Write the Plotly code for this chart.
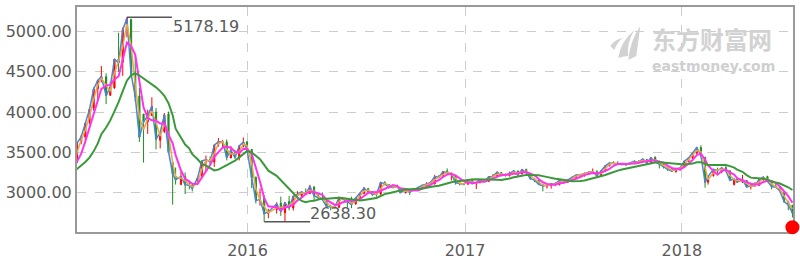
import pandas as pd
import plotly.graph_objects as go

# Weekly OHLC of the index (week-ending dates); first 15 weeks are warm-up for moving averages
dates = [
    "2014-12-05", "2014-12-12", "2014-12-19", "2014-12-26", "2014-12-31",
    "2015-01-09", "2015-01-16", "2015-01-23", "2015-01-30", "2015-02-06",
    "2015-02-13", "2015-02-17", "2015-02-27", "2015-03-06", "2015-03-13",
    "2015-03-20", "2015-03-27", "2015-04-03", "2015-04-10", "2015-04-17", "2015-04-24", "2015-04-30",
    "2015-05-08", "2015-05-15", "2015-05-22", "2015-05-29", "2015-06-05", "2015-06-12", "2015-06-19",
    "2015-06-26", "2015-07-03", "2015-07-10", "2015-07-17", "2015-07-24", "2015-07-31", "2015-08-07",
    "2015-08-14", "2015-08-21", "2015-08-28", "2015-09-02", "2015-09-11", "2015-09-18", "2015-09-25",
    "2015-09-30", "2015-10-09", "2015-10-16", "2015-10-23", "2015-10-30", "2015-11-06", "2015-11-13",
    "2015-11-20", "2015-11-27", "2015-12-04", "2015-12-11", "2015-12-18", "2015-12-25", "2015-12-31",
    "2016-01-08", "2016-01-15", "2016-01-22", "2016-01-29", "2016-02-05", "2016-02-19", "2016-02-26",
    "2016-03-04", "2016-03-11", "2016-03-18", "2016-03-25", "2016-04-01", "2016-04-08", "2016-04-15",
    "2016-04-22", "2016-04-29", "2016-05-06", "2016-05-13", "2016-05-20", "2016-05-27", "2016-06-03",
    "2016-06-08", "2016-06-17", "2016-06-24", "2016-07-01", "2016-07-08", "2016-07-15", "2016-07-22",
    "2016-07-29", "2016-08-05", "2016-08-12", "2016-08-19", "2016-08-26", "2016-09-02", "2016-09-09",
    "2016-09-14", "2016-09-23", "2016-09-30", "2016-10-14", "2016-10-21", "2016-10-28", "2016-11-04",
    "2016-11-11", "2016-11-18", "2016-11-25", "2016-12-02", "2016-12-09", "2016-12-16", "2016-12-23",
    "2016-12-30",
    "2017-01-06", "2017-01-13", "2017-01-20", "2017-01-26", "2017-02-03", "2017-02-10", "2017-02-17",
    "2017-02-24", "2017-03-03", "2017-03-10", "2017-03-17", "2017-03-24", "2017-03-31", "2017-04-07",
    "2017-04-14", "2017-04-21", "2017-04-28", "2017-05-05", "2017-05-12", "2017-05-19", "2017-05-26",
    "2017-06-02", "2017-06-09", "2017-06-16", "2017-06-23", "2017-06-30", "2017-07-07", "2017-07-14",
    "2017-07-21", "2017-07-28", "2017-08-04", "2017-08-11", "2017-08-18", "2017-08-25", "2017-09-01",
    "2017-09-08", "2017-09-15", "2017-09-22", "2017-09-29", "2017-10-13", "2017-10-20", "2017-10-27",
    "2017-11-03", "2017-11-10", "2017-11-17", "2017-11-24", "2017-12-01", "2017-12-08", "2017-12-15",
    "2017-12-22", "2017-12-29",
    "2018-01-05", "2018-01-12", "2018-01-19", "2018-01-26", "2018-02-02", "2018-02-09", "2018-02-14",
    "2018-02-23", "2018-03-02", "2018-03-09", "2018-03-16", "2018-03-23", "2018-03-30", "2018-04-04",
    "2018-04-13", "2018-04-20", "2018-04-27", "2018-05-04", "2018-05-11", "2018-05-18", "2018-05-25",
    "2018-06-01", "2018-06-08", "2018-06-15", "2018-06-22", "2018-06-29", "2018-07-06",
]

opens = [
    2680, 2950, 2930, 3110, 3160, 3258, 3260, 3200, 3360, 3130, 3080, 3210, 3250, 3330, 3250,
    3378, 3630, 3690, 3880, 4050, 4290, 4400, 4440, 4210, 4300, 4660, 4620, 5030, 5150,
    4480, 4200, 3975, 3880, 3960, 4000, 3650, 3760, 3980, 3373, 3200, 3100, 3200, 3100,
    3090, 3140, 3200, 3390, 3410, 3380, 3600, 3610, 3630, 3430, 3510, 3430, 3580, 3630,
    3536, 3190, 2900, 2930, 2740, 2790, 2870, 2750, 2890, 2810, 2960, 2960, 3010, 2990,
    3070, 2960, 2930, 2900, 2830, 2830, 2820, 2930, 2920, 2890, 2860, 2930, 2990, 3050,
    3010, 2980, 2980, 3130, 3100, 3070, 3070, 3050, 3000, 3030, 3030, 3060, 3090, 3100,
    3110, 3200, 3200, 3270, 3230, 3200, 3120, 3110,
    3105, 3155, 3110, 3125, 3160, 3140, 3200, 3200, 3250, 3220, 3210, 3240, 3270, 3230,
    3290, 3240, 3170, 3150, 3100, 3080, 3090, 3110, 3100, 3150, 3130, 3160, 3190, 3210,
    3210, 3240, 3250, 3260, 3210, 3270, 3330, 3370, 3365, 3355, 3350, 3360, 3390, 3380,
    3410, 3370, 3440, 3380, 3350, 3310, 3290, 3260, 3290,
    3315, 3390, 3430, 3490, 3560, 3440, 3130, 3210, 3290, 3260, 3310, 3270, 3100, 3170,
    3130, 3150, 3070, 3090, 3090, 3160, 3200, 3140, 3080, 3060, 3000, 2880, 2840,
]

highs = [
    2938, 3091, 3117, 3185, 3240, 3405, 3400, 3406, 3390, 3190, 3205, 3250, 3320, 3340, 3380,
    3632, 3715, 3866, 4040, 4306, 4400, 4572, 4480, 4380, 4658, 4986, 5051, 5178.19, 5160,
    4720, 4300, 3975, 4030, 4184, 4050, 3750, 3988, 4006, 3373, 3312, 3256, 3250, 3150,
    3110, 3200, 3398, 3460, 3450, 3596, 3678, 3655, 3660, 3580, 3530, 3590, 3684, 3640,
    3539, 3200, 3051, 2965, 2800, 2880, 2950, 2880, 2960, 2960, 3019, 3010, 3052, 3097,
    3080, 2980, 3003, 2900, 2850, 2850, 2950, 2940, 2920, 2950, 2940, 3000, 3070, 3060,
    3020, 2990, 3130, 3140, 3100, 3100, 3100, 3050, 3050, 3040, 3070, 3090, 3130, 3140,
    3220, 3220, 3270, 3301, 3250, 3220, 3150, 3120,
    3170, 3175, 3130, 3160, 3170, 3200, 3230, 3260, 3250, 3240, 3260, 3275, 3270, 3290,
    3295, 3240, 3180, 3150, 3110, 3100, 3120, 3130, 3160, 3160, 3170, 3195, 3220, 3225,
    3250, 3260, 3300, 3280, 3270, 3340, 3370, 3390, 3390, 3370, 3360, 3395, 3400, 3420,
    3420, 3440, 3450, 3400, 3350, 3320, 3310, 3310, 3310,
    3395, 3430, 3490, 3560, 3587, 3440, 3200, 3290, 3310, 3310, 3330, 3280, 3170, 3170,
    3220, 3150, 3110, 3130, 3170, 3200, 3210, 3140, 3120, 3080, 3000, 2900, 2850,
]

lows = [
    2650, 2834, 2900, 2939, 3150, 3180, 3190, 3095, 3200, 3050, 3050, 3200, 3240, 3210, 3220,
    3366, 3600, 3650, 3850, 4020, 4139, 4370, 4099, 4200, 4290, 4500, 4450, 4930, 4460,
    4130, 3630, 3373, 3730, 3950, 3537, 3549, 3740, 3500, 2851, 3100, 3100, 2983, 3040,
    3015, 3130, 3180, 3270, 3330, 3320, 3570, 3560, 3400, 3430, 3420, 3400, 3560, 3520,
    3056, 2867, 2839, 2638.30, 2682, 2740, 2712, 2639, 2780, 2778, 2930, 2950, 2980, 2980,
    2900, 2920, 2913, 2808, 2780, 2800, 2810, 2910, 2820, 2807, 2850, 2930, 2980, 3000,
    2960, 2950, 2980, 3090, 3050, 3050, 3060, 2990, 2990, 2970, 3030, 3040, 3090, 3090,
    3100, 3180, 3190, 3230, 3150, 3100, 3090, 3090,
    3100, 3100, 3045, 3115, 3135, 3130, 3190, 3200, 3200, 3200, 3200, 3230, 3200, 3230,
    3240, 3160, 3130, 3100, 3016, 3050, 3050, 3080, 3090, 3120, 3120, 3150, 3170, 3180,
    3200, 3220, 3250, 3200, 3200, 3260, 3330, 3350, 3350, 3340, 3330, 3360, 3370, 3370,
    3360, 3370, 3380, 3300, 3300, 3270, 3260, 3250, 3270,
    3315, 3390, 3400, 3480, 3440, 3062, 3100, 3200, 3240, 3240, 3260, 3150, 3090, 3120,
    3120, 3060, 3040, 3070, 3090, 3150, 3130, 3040, 3060, 3020, 2875, 2782, 2691,
]

closes = [
    2938, 2938, 3109, 3158, 3235, 3285, 3377, 3352, 3210, 3076, 3204, 3247, 3310, 3241, 3373,
    3617, 3691, 3864, 4034, 4287, 4394, 4442, 4206, 4309, 4658, 4612, 5023, 5166, 4478,
    4193, 3687, 3878, 3957, 4071, 3664, 3744, 3965, 3508, 3232, 3160, 3200, 3098, 3092,
    3053, 3183, 3391, 3412, 3383, 3590, 3633, 3631, 3436, 3525, 3435, 3579, 3628, 3539,
    3186, 2901, 2917, 2738, 2763, 2860, 2767, 2874, 2811, 2955, 2980, 3009, 2985, 3078,
    2960, 2938, 2913, 2828, 2826, 2822, 2939, 2927, 2885, 2854, 2933, 2989, 3054, 3013,
    2979, 2977, 3126, 3109, 3070, 3068, 3079, 3003, 3034, 3005, 3064, 3091, 3105, 3126,
    3197, 3193, 3262, 3244, 3233, 3123, 3111, 3104,
    3155, 3113, 3124, 3159, 3140, 3197, 3202, 3253, 3218, 3213, 3238, 3270, 3223, 3287,
    3246, 3173, 3155, 3104, 3084, 3091, 3108, 3106, 3158, 3123, 3158, 3192, 3218, 3222,
    3238, 3253, 3263, 3209, 3269, 3332, 3367, 3366, 3354, 3353, 3349, 3391, 3379, 3417,
    3372, 3433, 3383, 3353, 3317, 3290, 3267, 3297, 3307,
    3391, 3429, 3488, 3558, 3462, 3129, 3199, 3290, 3273, 3308, 3270, 3153, 3169, 3131,
    3160, 3071, 3082, 3091, 3163, 3193, 3141, 3075, 3067, 3022, 2890, 2847, 2747,
]

ma_windows = [1, 2, 4, 12]
ma_colors = ["#4a86d4", "#e8a84a", "#ff33ee", "#3a9a3a"]
ma_widths = [1.5, 1.5, 2, 2]

view_start = "2015-03-20"
view_end = "2018-07-07"
latest_marker_value = 2570

df = pd.DataFrame({"date": pd.to_datetime(dates), "open": opens, "high": highs,
                   "low": lows, "close": closes})
assert len(set(len(v) for v in [dates, opens, highs, lows, closes])) == 1

view = df[df["date"] >= pd.Timestamp(view_start)]
hi_row = view.loc[view["high"].idxmax()]
lo_row = view.loc[view["low"].idxmin()]
span = hi_row["high"] - lo_row["low"]
y_range = [lo_row["low"] - 0.05 * span, hi_row["high"] + 0.05 * span]

fig = go.Figure()
fig.add_trace(go.Candlestick(
    x=df["date"], open=df["open"], high=df["high"], low=df["low"], close=df["close"],
    increasing=dict(line=dict(color="#ff0000", width=1), fillcolor="#ff0000"),
    decreasing=dict(line=dict(color="#1e8c1e", width=1), fillcolor="#1e8c1e"),
    showlegend=False, hoverinfo="skip",
))
for w, c, lw in zip(ma_windows, ma_colors, ma_widths):
    fig.add_trace(go.Scatter(
        x=df["date"], y=df["close"].rolling(w).mean(), mode="lines",
        line=dict(color=c, width=lw), showlegend=False, hoverinfo="skip",
    ))

label_font = dict(family="DejaVu Sans", size=16, color="#5a5a5a")
# high / low markers
fig.add_shape(type="line", xref="x", yref="y", xsizemode="pixel",
              xanchor=hi_row["date"], x0=0, x1=45, y0=hi_row["high"], y1=hi_row["high"],
              line=dict(color="#555555", width=1.5))
fig.add_annotation(x=hi_row["date"], y=hi_row["high"], xref="x", yref="y",
                   text=f"{hi_row['high']:.2f}", showarrow=False, xanchor="left",
                   yanchor="top", xshift=44, yshift=2, font=label_font)
fig.add_shape(type="line", xref="x", yref="y", xsizemode="pixel",
              xanchor=lo_row["date"], x0=0, x1=46, y0=lo_row["low"], y1=lo_row["low"],
              line=dict(color="#555555", width=1.5))
fig.add_annotation(x=lo_row["date"], y=lo_row["low"], xref="x", yref="y",
                   text=f"{lo_row['low']:.2f}", showarrow=False, xanchor="left",
                   yanchor="bottom", xshift=44, yshift=-3, font=label_font)

# latest point marker, drawn unclipped over the frame (paper coords derived from the axes)
t0, t1 = pd.Timestamp(view_start), pd.Timestamp(view_end)
last_px = (df["date"].iloc[-1] - t0) / (t1 - t0)
last_py = (latest_marker_value - y_range[0]) / (y_range[1] - y_range[0])
fig.add_shape(type="circle", xref="paper", yref="paper", xsizemode="pixel", ysizemode="pixel",
              xanchor=last_px, yanchor=last_py,
              x0=-7, x1=7, y0=-7, y1=7, fillcolor="#ff0000", line=dict(width=0),
              layer="above")

# watermark
fig.add_annotation(x=0.80, y=0.86, xref="paper", yref="paper", text="<b>东方财富网</b>",
                   showarrow=False, xanchor="left", yanchor="middle",
                   font=dict(family="Noto Sans CJK SC", size=24, color="#d2d2d2"))
fig.add_annotation(x=0.889, y=0.74, xref="paper", yref="paper", text="<b>eastmoney.com</b>",
                   showarrow=False, xanchor="center", yanchor="middle",
                   font=dict(family="DejaVu Sans", size=14, color="#cfcfcf"))
for path in [
    "M 2,14 Q 6,20 14,22 Q 8,16 6,10 Z",
    "M 10,2 Q 12,18 26,30 Q 18,16 20,4 Q 16,4 10,2 Z",
    "M 20,0 Q 22,20 32,34 Q 30,18 28,4 Z",
]:
    fig.add_shape(type="path", xref="paper", yref="paper", xsizemode="pixel",
                  ysizemode="pixel", xanchor=0.742, yanchor=0.765, path=path,
                  fillcolor="#d2d2d2", line=dict(width=0), layer="above")

axis_font = dict(family="DejaVu Sans", size=16, color="#5a5a5a")
fig.update_layout(
    width=800, height=261, margin=dict(l=77, r=7, t=7, b=29),
    paper_bgcolor="white", plot_bgcolor="white",
    xaxis=dict(range=[view_start, view_end], type="date", rangeslider=dict(visible=False),
               tick0="2016-01-01", dtick="M12", tickformat="%Y", showgrid=True,
               gridcolor="#cccccc", griddash="dash", gridwidth=1,
               showline=True, linecolor="#999999", linewidth=2, mirror=True,
               tickfont=axis_font, ticks="", ticklabelstandoff=3, automargin=False),
    yaxis=dict(range=y_range, tick0=3000, dtick=500, tickformat=".2f", showgrid=True,
               gridcolor="#cccccc", griddash="dash", gridwidth=1,
               showline=True, linecolor="#999999", linewidth=2, mirror=True,
               tickfont=axis_font, ticks="", zeroline=False, automargin=False),
)
fig.write_html("out.html")
